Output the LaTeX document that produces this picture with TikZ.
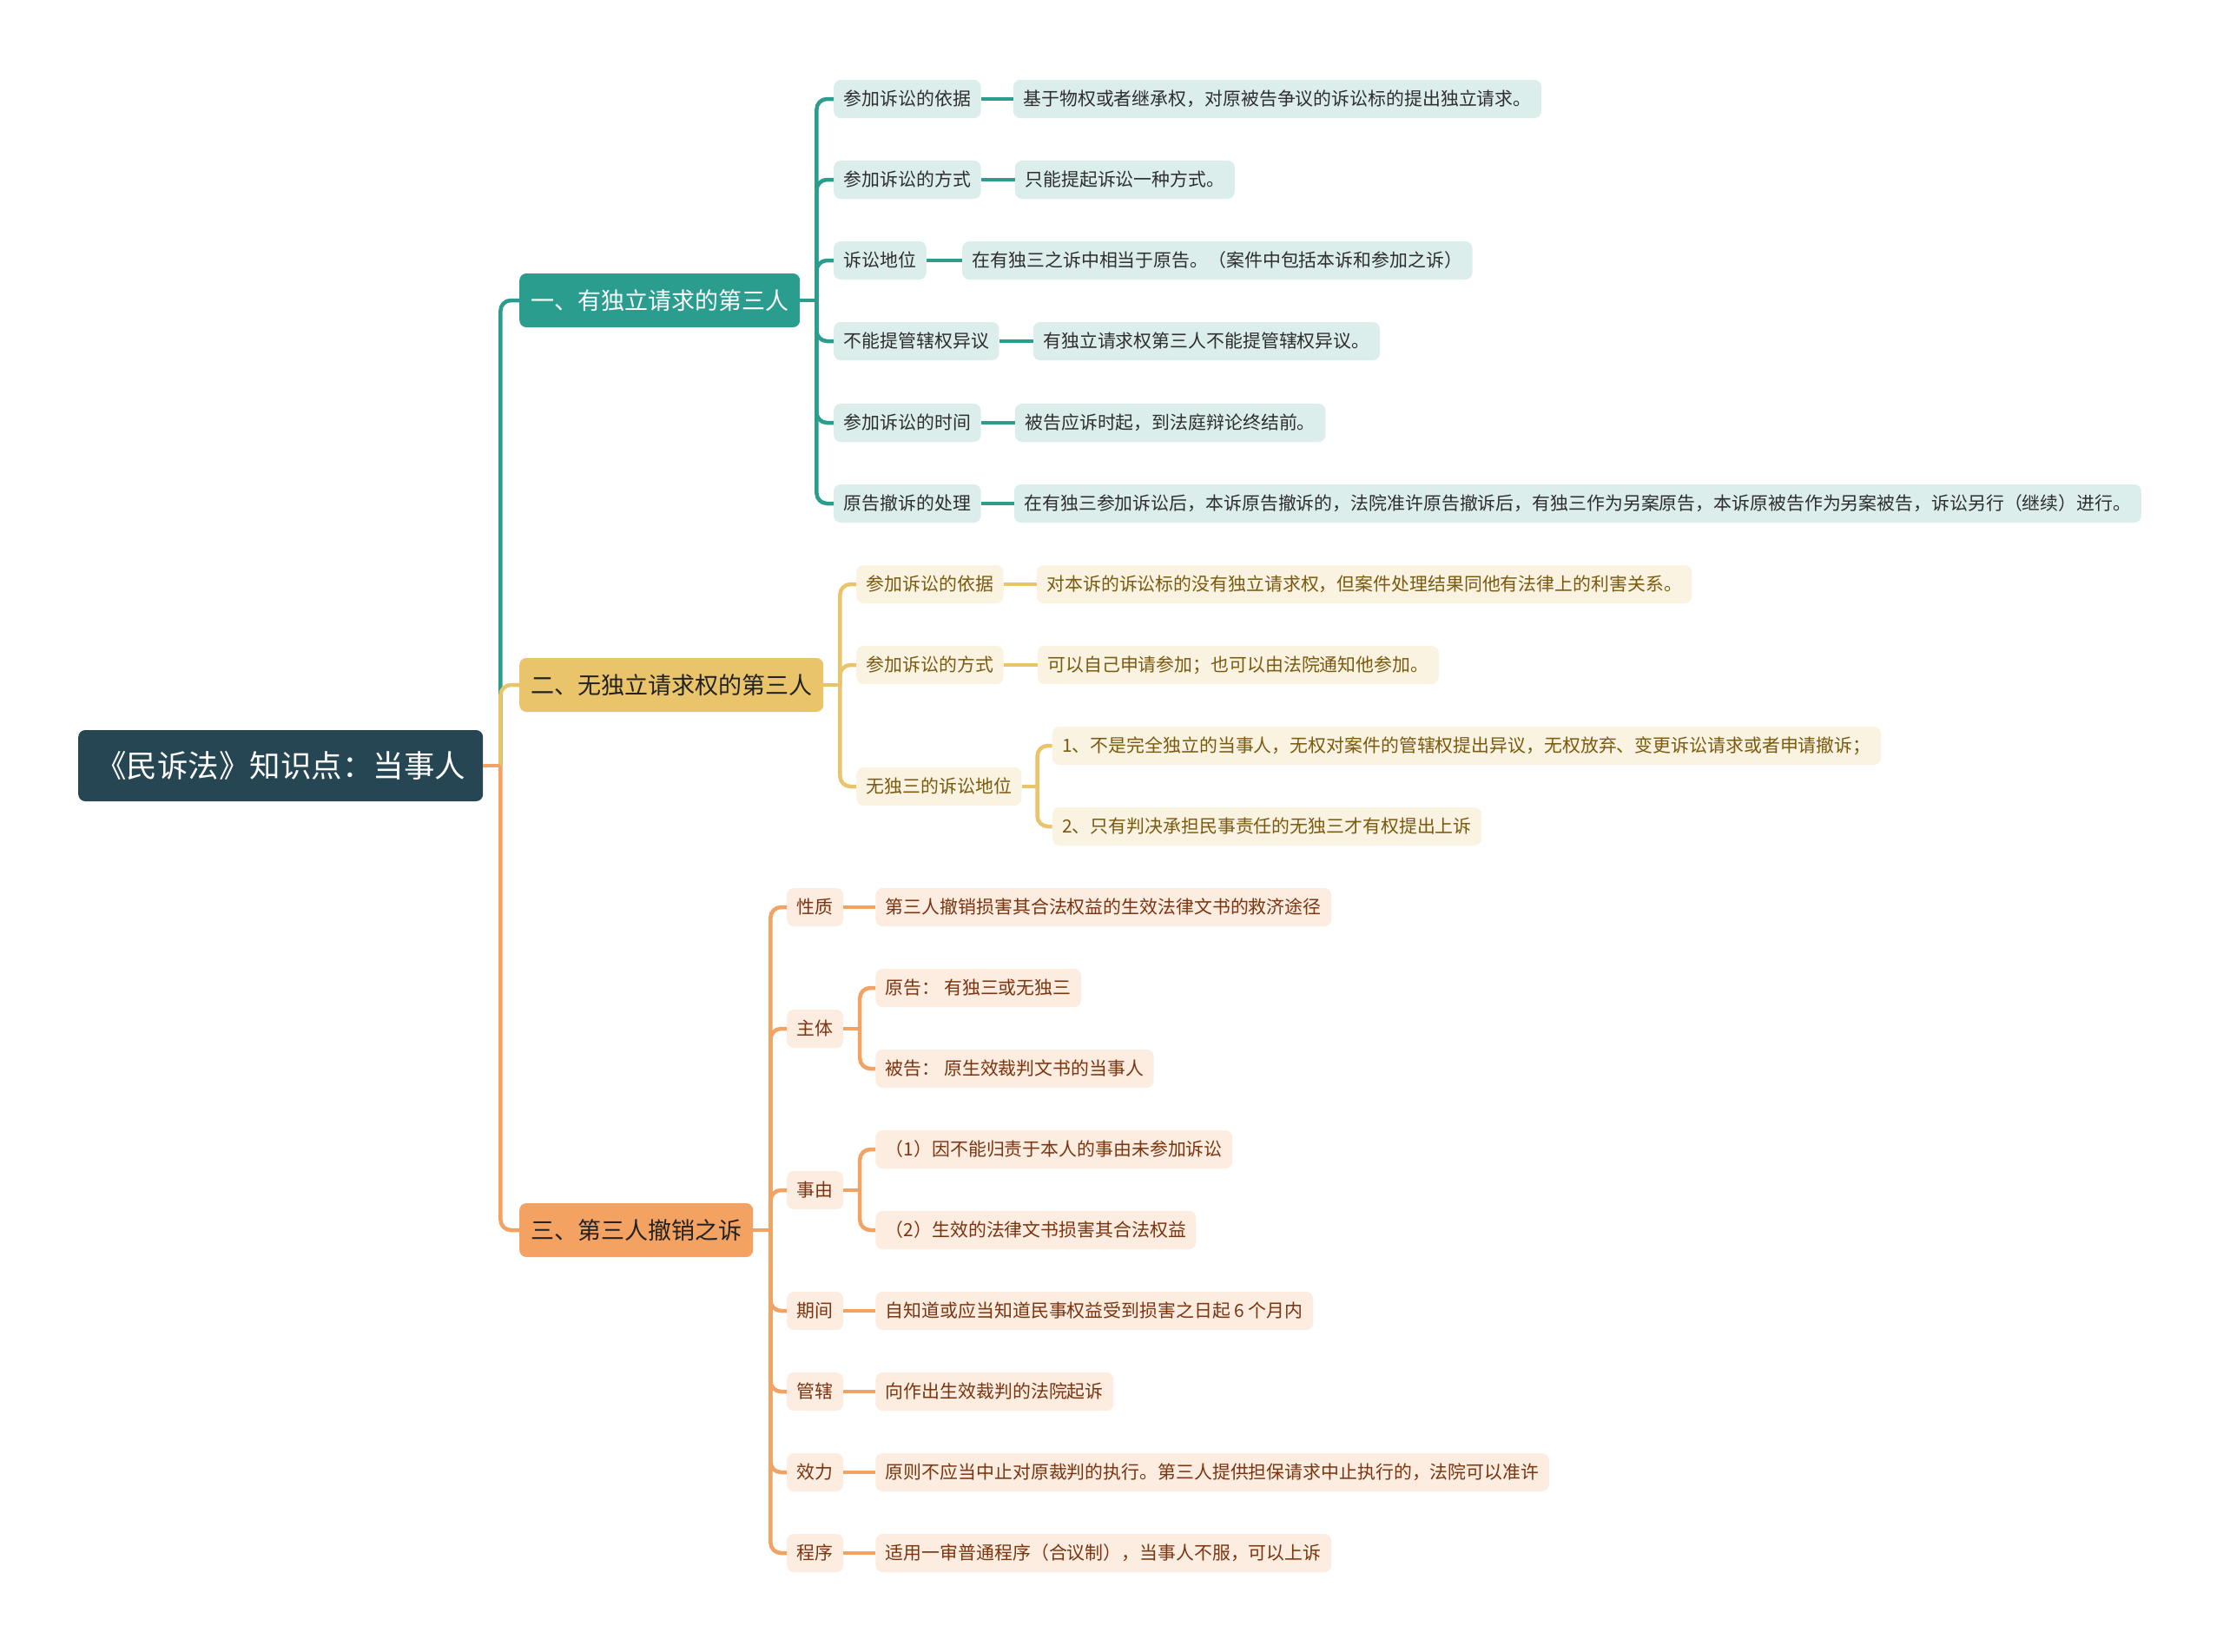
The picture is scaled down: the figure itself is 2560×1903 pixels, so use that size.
\documentclass[tikz,border=0pt]{standalone}
\usepackage{fontspec}
\setmainfont{Noto Sans CJK SC}
\usetikzlibrary{calc}
\definecolor{rootc}{HTML}{264653}
\definecolor{tealc}{HTML}{2A9D8F}
\definecolor{goldc}{HTML}{E9C46A}
\definecolor{orangec}{HTML}{F4A261}
\definecolor{teall}{HTML}{DCEEEB}
\definecolor{goldl}{HTML}{FBF3E2}
\definecolor{orangel}{HTML}{FDECE0}
\definecolor{darkt}{HTML}{222222}
\definecolor{tealt}{HTML}{2E2E2E}
\definecolor{goldt}{HTML}{7A5A0E}
\definecolor{oranget}{HTML}{7A3510}
\tikzset{
  box/.style={rounded corners=8pt, inner ysep=0pt, anchor=west},
  rootbox/.style={box, fill=rootc, text=white, font=\fontsize{35.5}{40}\selectfont, text height=30.2pt, text depth=3.5pt, minimum height=82pt, inner xsep=20pt},
  bigbox/.style={box, font=\fontsize{27}{32}\selectfont, text height=23pt, text depth=2.7pt, minimum height=62pt, inner xsep=13pt},
  bone/.style={bigbox, fill=tealc, text=white},
  btwo/.style={bigbox, fill=goldc, text=darkt},
  bthree/.style={bigbox, fill=orangec, text=darkt},
  smallbox/.style={box, font=\fontsize{20.9}{25}\selectfont, text height=17.8pt, text depth=2.1pt, minimum height=44pt, inner xsep=11.5pt},
  tleaf/.style={smallbox, fill=teall, text=tealt},
  gleaf/.style={smallbox, fill=goldl, text=goldt},
  oleaf/.style={smallbox, fill=orangel, text=oranget},
  lnk/.style={line width=4.5pt},
  lt/.style={lnk, draw=tealc},
  lg/.style={lnk, draw=goldc},
  lo/.style={lnk, draw=orangec},
  rc/.style={rounded corners=12pt}
}
\begin{document}
\begin{tikzpicture}[x=1pt,y=-1pt]
\useasboundingbox[fill=white] (0,0) rectangle (2560,1903);

% root and main branches
\node[rootbox] (root) at (90,882) {《民诉法》知识点：当事人};
\node[bone] (b1) at (598,346) {一、有独立请求的第三人};
\node[btwo] (b2) at (598,789) {二、无独立请求权的第三人};
\node[bthree] (b3) at (598,1417) {三、第三人撤销之诉};

% branch 1
\node[tleaf] (c11) at (960,114) {参加诉讼的依据};
\node[tleaf] (c12) at (960,207) {参加诉讼的方式};
\node[tleaf] (c13) at (960,300) {诉讼地位};
\node[tleaf] (c14) at (960,393) {不能提管辖权异议};
\node[tleaf] (c15) at (960,487) {参加诉讼的时间};
\node[tleaf] (c16) at (960,580) {原告撤诉的处理};
\node[tleaf] (l11) at ($(c11.east)+(37,0)$) {基于物权或者继承权，对原被告争议的诉讼标的提出独立请求。};
\node[tleaf] (l12) at ($(c12.east)+(39,0)$) {只能提起诉讼一种方式。};
\node[tleaf] (l13) at ($(c13.east)+(41,0)$) {在有独三之诉中相当于原告。（案件中包括本诉和参加之诉）};
\node[tleaf] (l14) at ($(c14.east)+(39,0)$) {有独立请求权第三人不能提管辖权异议。};
\node[tleaf] (l15) at ($(c15.east)+(39,0)$) {被告应诉时起，到法庭辩论终结前。};
\node[tleaf] (l16) at ($(c16.east)+(38,0)$) {在有独三参加诉讼后，本诉原告撤诉的，法院准许原告撤诉后，有独三作为另案原告，本诉原被告作为另案被告，诉讼另行（继续）进行。};

% branch 2
\node[gleaf] (c21) at (986,673) {参加诉讼的依据};
\node[gleaf] (c22) at (986,766) {参加诉讼的方式};
\node[gleaf] (c23) at (986,906) {无独三的诉讼地位};
\node[gleaf] (l21) at ($(c21.east)+(38,0)$) {对本诉的诉讼标的没有独立请求权，但案件处理结果同他有法律上的利害关系。};
\node[gleaf] (l22) at ($(c22.east)+(39,0)$) {可以自己申请参加；也可以由法院通知他参加。};
\node[gleaf] (l23a) at ($(c23.east)+(35,-47)$) {1、不是完全独立的当事人，无权对案件的管辖权提出异议，无权放弃、变更诉讼请求或者申请撤诉；};
\node[gleaf] (l23b) at ($(c23.east)+(35,46)$) {2、只有判决承担民事责任的无独三才有权提出上诉};

% branch 3
\node[oleaf] (c31) at (906,1045) {性质};
\node[oleaf] (c32) at (906,1185) {主体};
\node[oleaf] (c33) at (906,1371) {事由};
\node[oleaf] (c34) at (906,1510) {期间};
\node[oleaf] (c35) at (906,1603) {管辖};
\node[oleaf] (c36) at (906,1696) {效力};
\node[oleaf] (c37) at (906,1789) {程序};
\node[oleaf] (l31) at ($(c31.east)+(37,0)$) {第三人撤销损害其合法权益的生效法律文书的救济途径};
\node[oleaf] (l32a) at ($(c32.east)+(37,-47)$) {原告： 有独三或无独三};
\node[oleaf] (l32b) at ($(c32.east)+(37,46)$) {被告： 原生效裁判文书的当事人};
\node[oleaf] (l33a) at ($(c33.east)+(37,-47)$) {（1）因不能归责于本人的事由未参加诉讼};
\node[oleaf] (l33b) at ($(c33.east)+(37,46)$) {（2）生效的法律文书损害其合法权益};
\node[oleaf] (l34) at ($(c34.east)+(37,0)$) {自知道或应当知道民事权益受到损害之日起 6 个月内};
\node[oleaf] (l35) at ($(c35.east)+(37,0)$) {向作出生效裁判的法院起诉};
\node[oleaf] (l36) at ($(c36.east)+(37,0)$) {原则不应当中止对原裁判的执行。第三人提供担保请求中止执行的，法院可以准许};
\node[oleaf] (l37) at ($(c37.east)+(37,0)$) {适用一审普通程序（合议制），当事人不服，可以上诉};

% junction coordinates
\coordinate (jr) at ($(root.east)+(20,0)$);
\coordinate (j1) at ($(b1.east)+(19,0)$);
\coordinate (j2) at ($(b2.east)+(19,0)$);
\coordinate (j3) at ($(b3.east)+(20,0)$);
\coordinate (j23) at ($(c23.east)+(18,0)$);
\coordinate (j32) at ($(c32.east)+(19,0)$);
\coordinate (j33) at ($(c33.east)+(19,0)$);

% root connectors
\draw[lt,rc] (b1.west) -| (jr);
\draw[lg,rc] (b2.west) -| (jr);
\draw[lo,rc] (b3.west) -| (jr);
\draw[lo] (root.east) -- (jr);

% branch 1 connectors
\draw[lt] (b1.east) -- (j1);
\foreach \c in {c11,c12,c13,c14,c15,c16} \draw[lt,rc] (\c.west) -| (j1);
\foreach \a/\b in {c11/l11,c12/l12,c13/l13,c14/l14,c15/l15,c16/l16} \draw[lt] (\a.east) -- (\b.west);

% branch 2 connectors
\draw[lg] (b2.east) -- (j2);
\foreach \c in {c21,c22,c23} \draw[lg,rc] (\c.west) -| (j2);
\draw[lg] (c21.east) -- (l21.west);
\draw[lg] (c22.east) -- (l22.west);
\draw[lg] (c23.east) -- (j23);
\draw[lg,rc] (l23a.west) -| (j23);
\draw[lg,rc] (l23b.west) -| (j23);

% branch 3 connectors
\draw[lo] (b3.east) -- (j3);
\foreach \c in {c31,c32,c33,c34,c35,c36,c37} \draw[lo,rc] (\c.west) -| (j3);
\foreach \a/\b in {c31/l31,c34/l34,c35/l35,c36/l36,c37/l37} \draw[lo] (\a.east) -- (\b.west);
\draw[lo] (c32.east) -- (j32);
\draw[lo,rc] (l32a.west) -| (j32);
\draw[lo,rc] (l32b.west) -| (j32);
\draw[lo] (c33.east) -- (j33);
\draw[lo,rc] (l33a.west) -| (j33);
\draw[lo,rc] (l33b.west) -| (j33);
\end{tikzpicture}
\end{document}
